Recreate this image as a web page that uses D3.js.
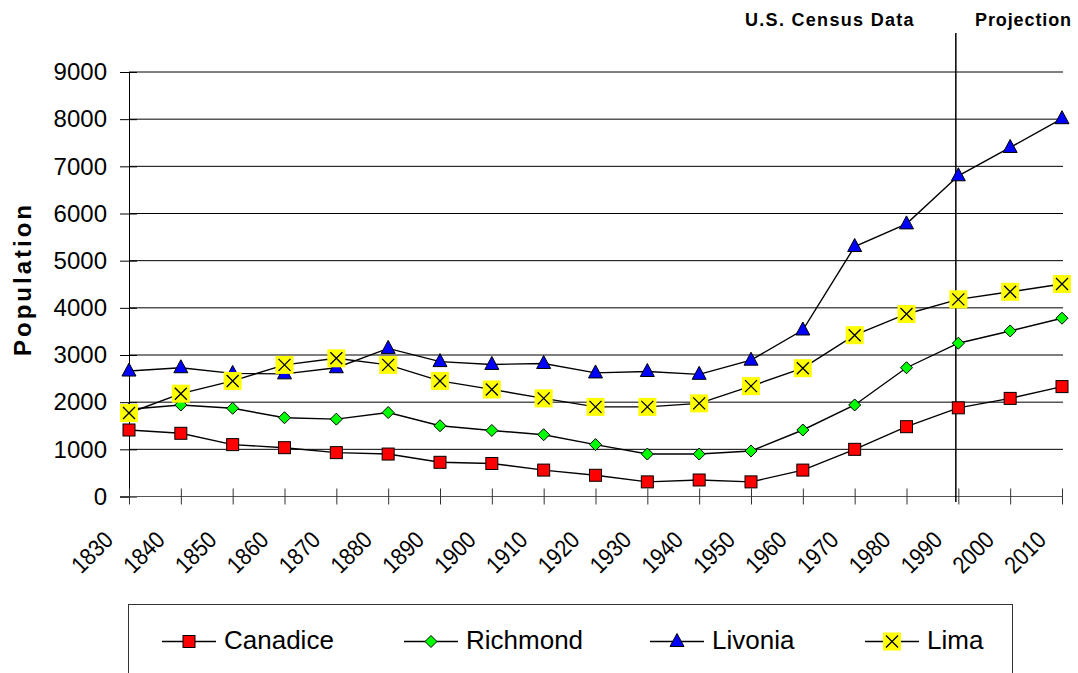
<!DOCTYPE html>
<html><head><meta charset="utf-8">
<script src="https://cdn.jsdelivr.net/npm/d3@7"></script>
<style>body{margin:0;background:#fff}svg{display:block}</style>
</head><body>
<svg id="c" width="1078" height="673"></svg>
<script>
const years = ["1830","1840","1850","1860","1870","1880","1890","1900","1910","1920","1930","1940","1950","1960","1970","1980","1990","2000","2010"];
const canadice = [1410,1340,1100,1035,930,900,725,700,560,450,310,350,310,560,1000,1480,1880,2080,2330];
const richmond = [1850,1940,1870,1670,1640,1780,1500,1400,1310,1100,900,900,965,1410,1940,2730,3250,3510,3780];
const livonia  = [2660,2730,2610,2600,2730,3140,2860,2800,2820,2620,2650,2590,2890,3530,5300,5780,6800,7400,8010];
const lima     = [1770,2180,2450,2790,2930,2790,2450,2270,2080,1900,1900,1975,2340,2720,3420,3870,4180,4340,4505];
const yTicks = [0,1000,2000,3000,4000,5000,6000,7000,8000,9000];
const seriesNames = ["Canadice","Richmond","Livonia","Lima"];
const projectionStart = "1990";

const svg = d3.select("#c");
svg.append("rect").attr("width",1078).attr("height",673).attr("fill","#fff");

const x = d3.scalePoint().domain(years).range([129, 1062]);
const y = d3.scaleLinear().domain([0, 9000]).range([496.5, 72]);

// gridlines
svg.append("g").selectAll("line").data(yTicks.filter(d=>d>0)).join("line")
  .attr("x1",129).attr("x2",1063).attr("y1",d=>y(d)).attr("y2",d=>y(d))
  .attr("stroke","#000").attr("stroke-width",1);

// y axis
const ya = svg.append("g").attr("transform","translate(129,0)")
  .call(d3.axisLeft(y).tickValues(yTicks).tickFormat(d3.format("d")).tickSize(9).tickPadding(13));
ya.select(".domain").attr("stroke","#000");
ya.selectAll(".tick line").attr("x1",-9).attr("x2",8).attr("stroke","#000");
ya.selectAll(".tick text").attr("font-family","Liberation Sans, Arial, sans-serif").attr("font-size",24).attr("fill","#000");

// x axis
const xa = svg.append("g").attr("transform",`translate(0,${y(0)})`)
  .call(d3.axisBottom(x).tickSize(8));
xa.select(".domain").attr("d",`M129,0H1063`).attr("stroke","#555");
xa.selectAll(".tick line").attr("y1",-8).attr("y2",8).attr("stroke","#333");
xa.selectAll(".tick text")
  .attr("font-family","Liberation Sans, Arial, sans-serif").attr("font-size",24).attr("fill","#000")
  .attr("text-anchor","end").attr("y",0).attr("dy",0)
  .attr("transform","translate(-15,45) rotate(-45) scale(0.88,1)");

// projection divider
svg.append("line").attr("x1",x(projectionStart)-2.5).attr("x2",x(projectionStart)-2.5)
  .attr("y1",33).attr("y2",502).attr("stroke","#000").attr("stroke-width",1.5);

// headings
svg.append("text").attr("x",745).attr("y",26).text("U.S. Census Data")
  .attr("font-family","Liberation Sans, Arial, sans-serif").attr("font-weight","bold").attr("font-size",18).attr("letter-spacing",1.3);
svg.append("text").attr("x",975).attr("y",26).text("Projection")
  .attr("font-family","Liberation Sans, Arial, sans-serif").attr("font-weight","bold").attr("font-size",18).attr("letter-spacing",0.9);

// y title
svg.append("text").attr("transform","translate(31,279) rotate(-90)").attr("text-anchor","middle")
  .text("Population").attr("font-family","Liberation Sans, Arial, sans-serif").attr("font-weight","bold")
  .attr("font-size",24).attr("letter-spacing",3);

// markers
function drawMarker(g, type, cx, cy) {
  if (type === "Canadice") {
    g.append("rect").attr("x",cx-6).attr("y",cy-6).attr("width",12).attr("height",12)
      .attr("fill","#ff0000").attr("stroke","#000").attr("stroke-width",1);
  } else if (type === "Richmond") {
    g.append("path").attr("d",`M${cx},${cy-6}L${cx+6},${cy}L${cx},${cy+6}L${cx-6},${cy}Z`)
      .attr("fill","#00ff00").attr("stroke","#000").attr("stroke-width",1);
  } else if (type === "Livonia") {
    g.append("path").attr("d",`M${cx},${cy-8}L${cx+7},${cy+5}L${cx-7},${cy+5}Z`)
      .attr("fill","#0000ff").attr("stroke","#000").attr("stroke-width",1);
  } else {
    g.append("rect").attr("x",cx-9).attr("y",cy-9).attr("width",18).attr("height",18).attr("fill","#ffff00");
    g.append("path").attr("d",`M${cx-6},${cy-6}L${cx+6},${cy+6}M${cx+6},${cy-6}L${cx-6},${cy+6}`)
      .attr("stroke","#000").attr("stroke-width",1.3);
  }
}

const allSeries = [canadice, richmond, livonia, lima];
const line = d3.line().x((d,i)=>x(years[i])).y(d=>y(d));
allSeries.forEach((vals, si) => {
  const g = svg.append("g");
  g.append("path").attr("d", line(vals)).attr("fill","none").attr("stroke","#000").attr("stroke-width",1.4);
  vals.forEach((v,i)=>drawMarker(g, seriesNames[si], x(years[i]), y(v)));
});

// legend
svg.append("rect").attr("x",128.5).attr("y",604.5).attr("width",884).attr("height",120)
  .attr("fill","none").attr("stroke","#333").attr("stroke-width",1);
const legX = [189, 431, 677, 892];
seriesNames.forEach((n,i)=>{
  const g = svg.append("g");
  g.append("line").attr("x1",legX[i]-27).attr("x2",legX[i]+27).attr("y1",641.5).attr("y2",641.5)
    .attr("stroke","#000").attr("stroke-width",1.4);
  drawMarker(g, n, legX[i], 641.5);
  g.append("text").attr("x",legX[i]+35).attr("y",648.5).text(n)
    .attr("font-family","Liberation Sans, Arial, sans-serif").attr("font-size",26).attr("fill","#000");
});
</script>
</body></html>
